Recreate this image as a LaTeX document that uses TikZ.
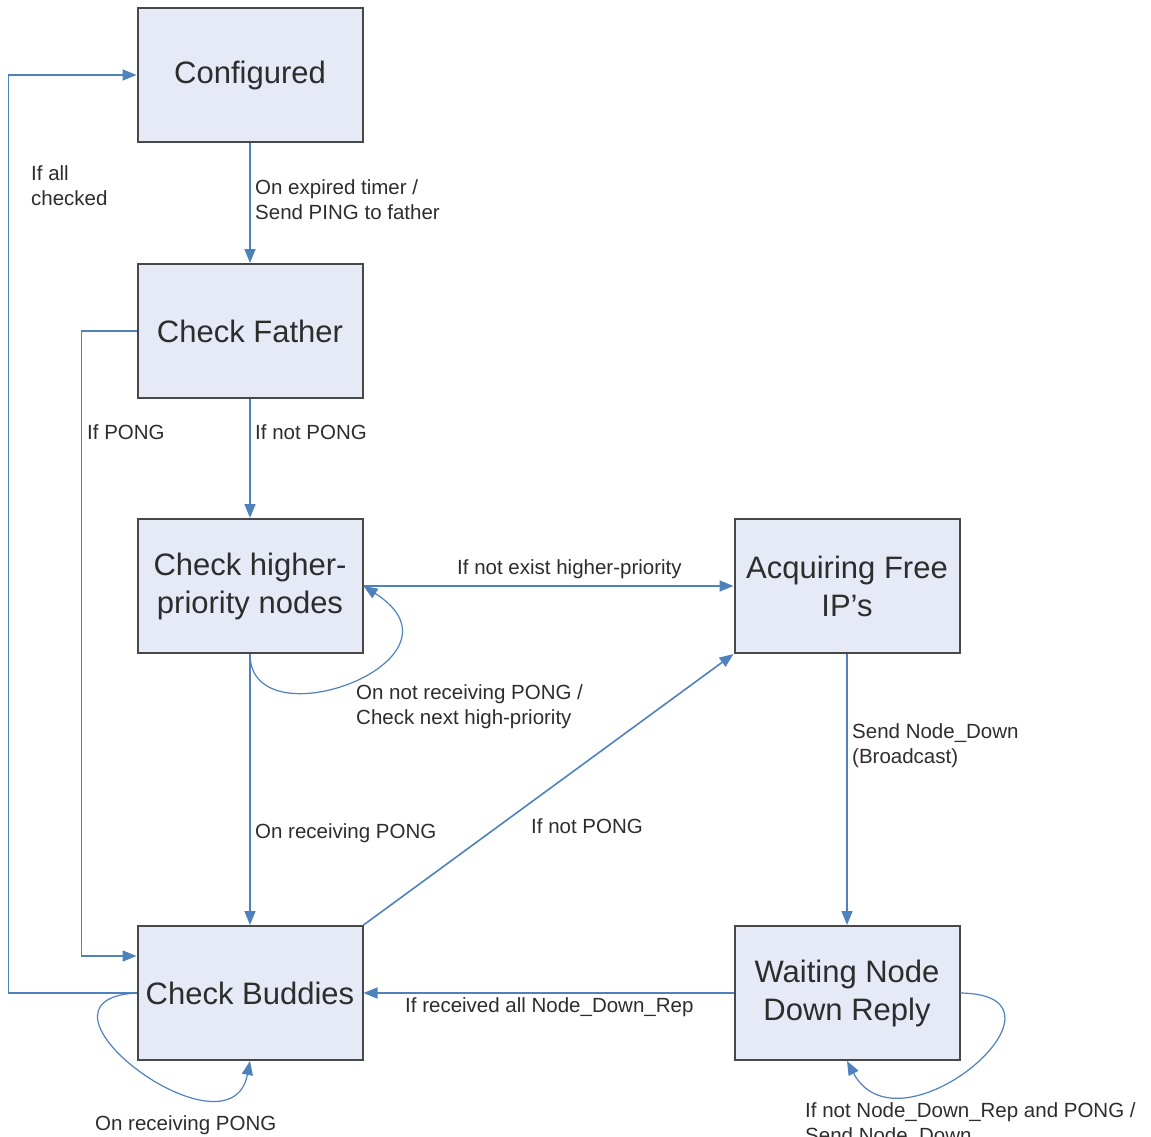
\documentclass[tikz,border=0pt]{standalone}
\usepackage{fontspec}
\setmainfont{Liberation Sans}
\usetikzlibrary{arrows.meta}
\definecolor{boxfill}{RGB}{230,234,246}
\definecolor{boxline}{RGB}{72,72,72}
\definecolor{linkblue}{RGB}{79,129,189}
\definecolor{txt}{RGB}{45,45,45}
\tikzset{
  state/.style={draw=boxline, line width=2pt, fill=boxfill, minimum width=225pt,
    minimum height=134pt, inner sep=0pt, align=center, text=txt,
    font=\fontsize{31}{38}\selectfont},
  conn/.style={draw=linkblue, line width=1.6pt, -{Triangle[length=14pt,width=11pt]}},
  loopconn/.style={conn, line width=1.2pt},
  lbl/.style={text=txt, align=left, inner sep=0pt, anchor=west,
    font=\fontsize{20.5}{25}\selectfont}
}
\begin{document}
\begin{tikzpicture}[x=1pt, y=-1pt]
\useasboundingbox (0,0) rectangle (1151,1137);

% states
\node[state] (cfg) at (250,75)  {Configured};
\node[state] (cf)  at (250,331) {Check Father};
\node[state] (chp) at (250,586) {Check higher-\\priority nodes};
\node[state] (acq) at (847,586) {Acquiring Free\\IP's};
\node[state] (cb)  at (250,993) {Check Buddies};
\node[state] (wnd) at (847,993) {Waiting Node\\Down Reply};

% transitions
\draw[conn] (cfg.south) -- (cf.north);
\draw[conn] (cf.south) -- (chp.north);
\draw[conn] (cf.west) -- ++(-55,0) |- ([yshift=37pt]cb.west);
\draw[conn] (cb.west) -- ++(-128,0) |- (cfg.west);
\draw[conn] (chp.south) -- (cb.north);
\draw[conn] (chp.east) -- (acq.west);
\draw[conn] (cb.north east) -- (acq.south west);
\draw[conn] (acq.south) -- (wnd.north);
\draw[conn] (wnd.west) -- (cb.east);

% self loops
\draw[loopconn] (chp.south) .. controls (250,745) and (480,660) .. (chp.east);
\draw[loopconn] (cb.west) .. controls (10,1000) and (230,1165) .. (cb.south);
\draw[loopconn] (wnd.east) .. controls (1090,995) and (900,1160) .. (wnd.south);

% transition labels
\node[lbl] (l1)  at (255,200) {On expired timer /\\Send PING to father};
\node[lbl] (l2)  at (31,186)  {If all\\checked};
\node[lbl] (l3)  at (87,432)  {If PONG};
\node[lbl] (l4)  at (255,432) {If not PONG};
\node[lbl] (l5)  at (457,569) {If not exist higher-priority};
\node[lbl] (l6)  at (356,707) {On not receiving PONG /\\Check next high-priority};
\node[lbl] (l7)  at (852,746) {Send Node\_Down\\(Broadcast)};
\node[lbl] (l8)  at (255,833) {On receiving PONG};
\node[lbl] (l9)  at (531,826) {If not PONG};
\node[lbl] (l10) at (405,1007) {If received all Node\_Down\_Rep};
\node[lbl] (l11) at (95,1125) {On receiving PONG};
\node[lbl] (l12) at (805,1125) {If not Node\_Down\_Rep and PONG /\\Send Node\_Down};
\end{tikzpicture}
\end{document}
